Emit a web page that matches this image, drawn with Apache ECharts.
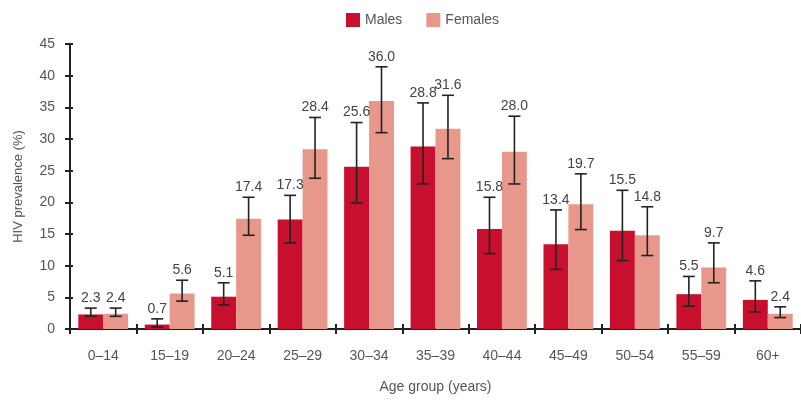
<!DOCTYPE html>
<html>
<head>
<meta charset="utf-8">
<script src="https://cdn.jsdelivr.net/npm/echarts@6/dist/echarts.min.js"></script>
<style>
  html, body { margin: 0; padding: 0; background: #fff; }
  #main { width: 801px; height: 401px; }
</style>
</head>
<body>
<div id="main"></div>
<script>
// age groups and prevalence (%) with 95% CI
var ageGroups = ['0–14', '15–19', '20–24', '25–29', '30–34', '35–39', '40–44', '45–49', '50–54', '55–59', '60+'];
var malesValue = [2.3, 0.7, 5.1, 17.3, 25.6, 28.8, 15.8, 13.4, 15.5, 5.5, 4.6];
var malesLow   = [2.0, 0.3, 3.8, 13.6, 19.9, 22.9, 11.9, 9.4, 10.8, 3.6, 2.7];
var malesHigh  = [3.3, 1.6, 7.3, 21.1, 32.6, 35.7, 20.8, 18.8, 21.9, 8.3, 7.6];
var femalesValue = [2.4, 5.6, 17.4, 28.4, 36.0, 31.6, 28.0, 19.7, 14.8, 9.7, 2.4];
var femalesLow   = [2.0, 4.4, 14.8, 23.8, 31.0, 26.9, 22.9, 15.7, 11.6, 7.3, 1.8];
var femalesHigh  = [3.3, 7.7, 20.8, 33.4, 41.4, 36.9, 33.6, 24.5, 19.3, 13.6, 3.5];
var yTicks = [0, 5, 10, 15, 20, 25, 30, 35, 40, 45];

var maleColor = '#c8102e';
var femaleColor = '#e8988b';
var textColor = '#555';
var catGap = 0.25;

function errorData(values, lows, highs) {
  return values.map(function (v, i) { return [i, lows[i], highs[i], v]; });
}

function makeErrorRender(side) {
  return function (params, api) {
    var idx = api.value(0);
    var band = api.size([1, 0])[0];
    var barW = band * (1 - catGap) / 2;
    var off = side * barW / 2;
    var top = api.coord([idx, api.value(2)]);
    var bot = api.coord([idx, api.value(1)]);
    var x = top[0] + off;
    var cap = 6;
    var st = { stroke: '#222', lineWidth: 1.6 };
    return {
      type: 'group',
      children: [
        { type: 'line', shape: { x1: x, y1: top[1], x2: x, y2: bot[1] }, style: st },
        { type: 'line', shape: { x1: x - cap, y1: top[1], x2: x + cap, y2: top[1] }, style: st },
        { type: 'line', shape: { x1: x - cap, y1: bot[1], x2: x + cap, y2: bot[1] }, style: st },
        {
          type: 'text',
          style: {
            text: api.value(3).toFixed(1),
            x: x, y: top[1] - 3,
            align: 'center', verticalAlign: 'bottom',
            fill: '#444', font: '14px "Liberation Sans", Arial, sans-serif'
          }
        }
      ]
    };
  };
}

var tickStyle = { color: '#222', width: 2 };

var chart = echarts.init(document.getElementById('main'));
chart.setOption({
  animation: false,
  textStyle: { fontFamily: '"Liberation Sans", Arial, sans-serif' },
  legend: {
    left: 341, top: 8,
    itemWidth: 14, itemHeight: 14, itemGap: 24,
    icon: 'rect',
    textStyle: { color: textColor, fontSize: 14 },
    data: ['Males', 'Females']
  },
  grid: { left: 70, right: -6, top: 44, bottom: 72 },
  xAxis: [
    {
      type: 'category',
      data: ageGroups,
      name: 'Age group (years)',
      nameLocation: 'middle',
      nameGap: 51,
      nameTextStyle: { color: textColor, fontSize: 14 },
      axisLine: { lineStyle: { color: '#222', width: 2 } },
      axisTick: { show: true, length: 5, lineStyle: tickStyle },
      axisLabel: { color: textColor, fontSize: 14, margin: 20 }
    },
    {
      // second copy only to draw the inner half of the crossing ticks
      type: 'category',
      data: ageGroups,
      position: 'bottom',
      axisLine: { show: false },
      axisTick: { show: true, inside: true, length: 5, lineStyle: tickStyle },
      axisLabel: { show: false }
    }
  ],
  yAxis: [
    {
      type: 'value',
      min: yTicks[0], max: yTicks[yTicks.length - 1], interval: 5,
      name: 'HIV prevalence (%)',
      nameLocation: 'middle',
      nameGap: 45,
      nameTextStyle: { color: textColor, fontSize: 13 },
      axisLine: { show: true, lineStyle: { color: '#222', width: 2 } },
      axisTick: { show: true, length: 5, lineStyle: tickStyle },
      axisLabel: { color: textColor, fontSize: 14, margin: 15 },
      splitLine: { show: false }
    },
    {
      type: 'value',
      position: 'left',
      min: yTicks[0], max: yTicks[yTicks.length - 1], interval: 5,
      axisLine: { show: false },
      axisTick: { show: true, inside: true, length: 3, lineStyle: tickStyle },
      axisLabel: { show: false },
      splitLine: { show: false }
    }
  ],
  series: [
    {
      name: 'Males', type: 'bar', data: malesValue,
      itemStyle: { color: maleColor },
      barGap: 0, barCategoryGap: (catGap * 100) + '%'
    },
    {
      name: 'Females', type: 'bar', data: femalesValue,
      itemStyle: { color: femaleColor }
    },
    {
      name: 'Males CI', type: 'custom',
      data: errorData(malesValue, malesLow, malesHigh),
      encode: { x: 0, y: [1, 2] },
      renderItem: makeErrorRender(-1), z: 5
    },
    {
      name: 'Females CI', type: 'custom',
      data: errorData(femalesValue, femalesLow, femalesHigh),
      encode: { x: 0, y: [1, 2] },
      renderItem: makeErrorRender(1), z: 5
    }
  ]
});
</script>
</body>
</html>
